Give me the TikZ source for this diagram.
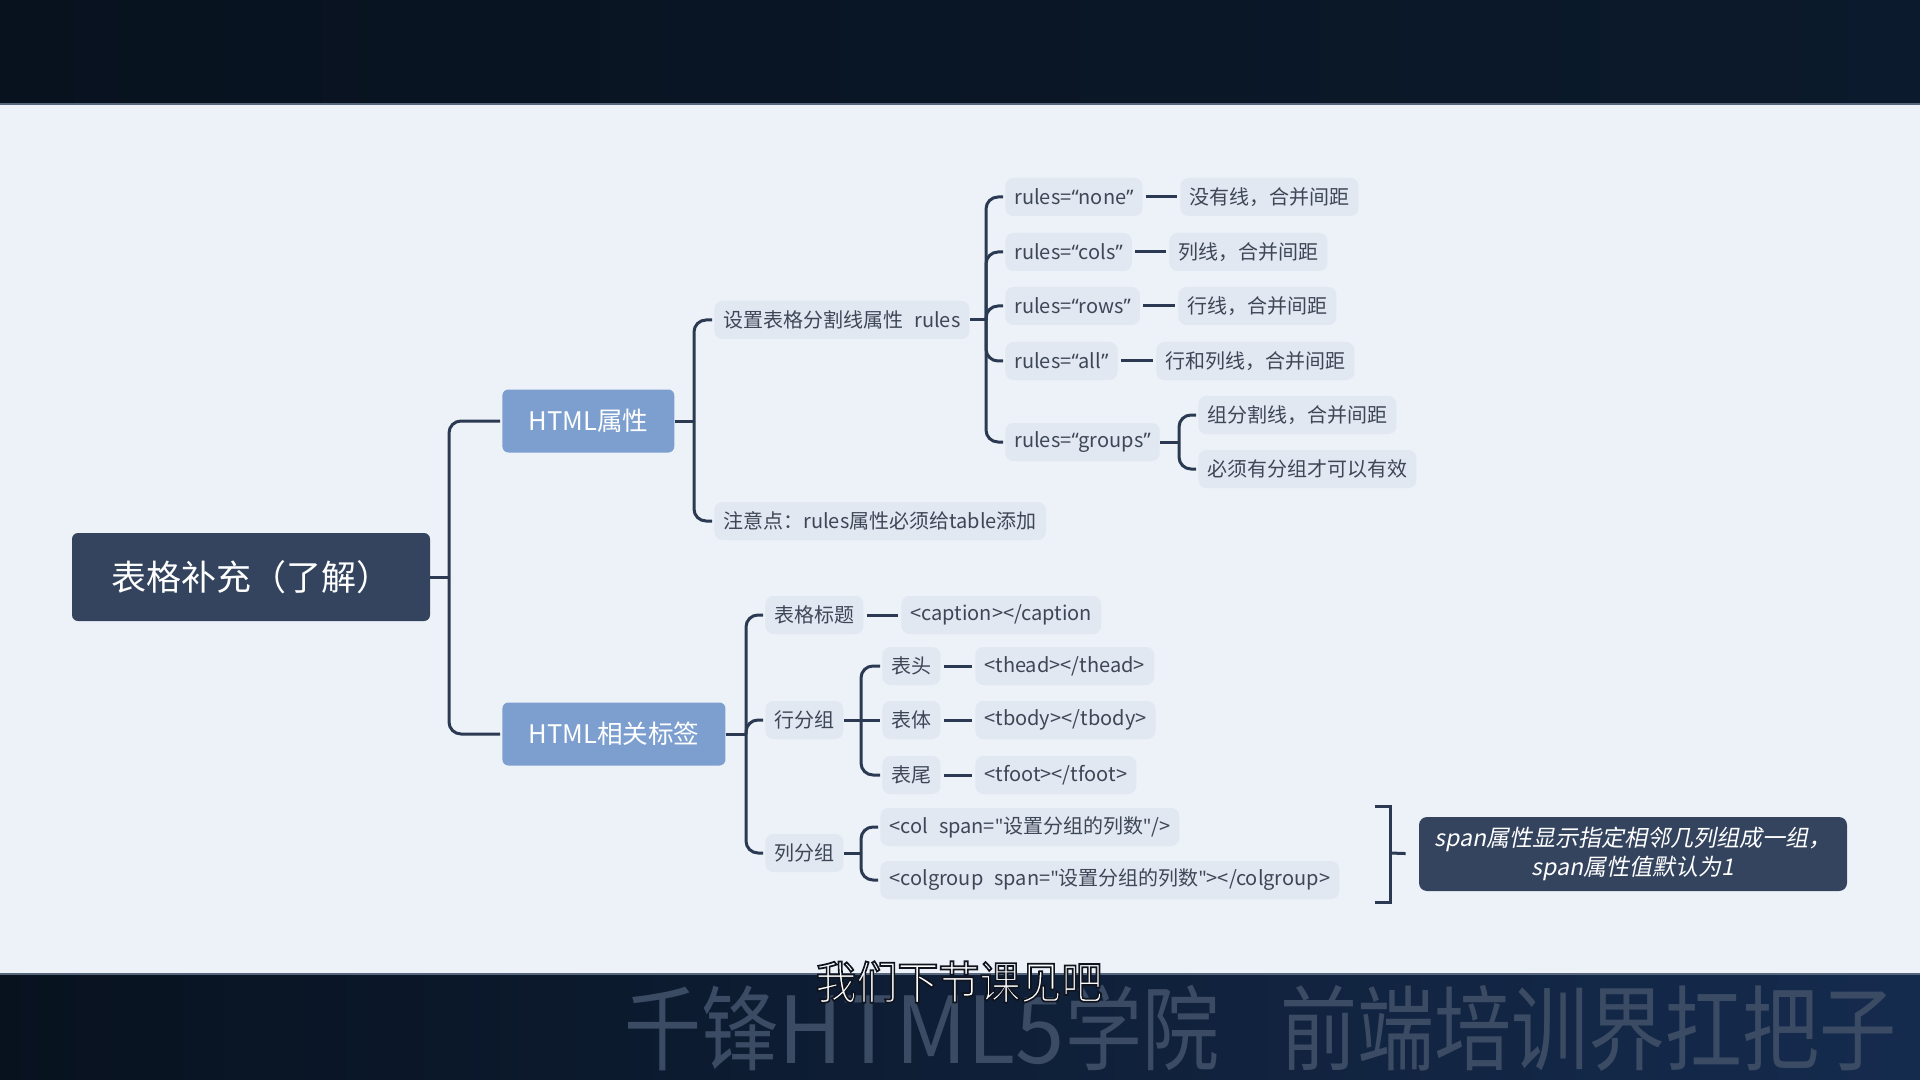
\documentclass[tikz,border=0pt]{standalone}
\usepackage{fontspec}
\usepackage{graphicx}
\setmainfont{Noto Sans CJK SC}
\newfontfamily\qfont{Noto Sans}
\newfontfamily\slfont[FakeSlant=0.2]{Noto Sans CJK SC}
\newcommand\oq{{\qfont “}}
\newcommand\cq{{\qfont ”}}
\newcommand\sq{{\qfont "}}
\newcommand\gap{\hspace{0.55em}}
\newcommand\outlined[1]{\special{pdf:literal direct 2 Tr 0.8 w 1 g 0.06 0.08 0.12 RG}#1\special{pdf:literal direct 0 Tr}}
\definecolor{pagebg}{HTML}{EDF2F9}
\definecolor{leafbg}{HTML}{E1E8F1}
\definecolor{leaftext}{HTML}{3E4757}
\definecolor{rootbg}{HTML}{34445E}
\definecolor{midbg}{HTML}{7C9FCF}
\definecolor{linkc}{HTML}{2B3A52}
\definecolor{bandl}{HTML}{08121F}
\definecolor{bandm}{HTML}{132746}
\definecolor{bandr}{HTML}{0B1A2C}
\definecolor{bandb}{HTML}{152B4E}
\definecolor{edgec}{HTML}{56667C}
\definecolor{markc}{HTML}{3B4B64}

\begin{document}
\begin{tikzpicture}[x=0.5pt, y=-0.5pt,
    leaf/.style={fill=leafbg, text=leaftext, rounded corners=4pt, inner xsep=4.5pt, inner ysep=0pt,
                 minimum height=19pt, anchor=west, font=\fontsize{10}{12}\selectfont},
    topic/.style={fill=midbg, text=white, rounded corners=3pt, inner xsep=13pt, minimum height=31.5pt,
                  anchor=west, font=\fontsize{12.8}{15}\selectfont},
    link/.style={draw=linkc, line width=1.5pt, rounded corners=6pt, shorten >=1pt},
    pair/.style={draw=linkc, line width=1.5pt, shorten <=1.5pt, shorten >=1.5pt},
    bar/.style={draw=linkc, line width=1.5pt}]
    \useasboundingbox (0,0) rectangle (1920,1080);
    \fill[pagebg] (0,0) rectangle (1920,1080);
    \shade[left color=bandl, middle color=bandm, right color=bandr] (0,0) rectangle (1920,104);
    \shade[left color=bandl, right color=bandb] (0,974) rectangle (1920,1080);
    \draw[edgec, line width=0.8pt] (0,104) -- (1920,104);
    \draw[edgec, line width=0.8pt] (0,974) -- (1920,974);

    \node[fill=rootbg, text=white, rounded corners=3pt, minimum width=179pt, minimum height=44pt,
          font=\fontsize{17.5}{20}\selectfont] (root) at (251,577) {表格补充（了解）};
    \node[topic] (attr) at (502,421) {HTML属性};
    \node[topic] (tags) at (502,734) {HTML相关标签};

    \node[leaf] (rset) at (714,320) {设置表格分割线属性\gap rules};
    \node[leaf] (rnote) at (714,521) {注意点：rules属性必须给table添加};
    \node[leaf] (none) at (1005,197) {rules=\oq none\cq};
    \node[leaf] (cols) at (1005,252) {rules=\oq cols\cq};
    \node[leaf] (rows) at (1005,306) {rules=\oq rows\cq};
    \node[leaf] (all) at (1005,361) {rules=\oq all\cq};
    \node[leaf] (groups) at (1005,442) {rules=\oq groups\cq};
    \node[leaf] (vnone) at (1180,197) {没有线，合并间距};
    \node[leaf] (vcols) at (1169,252) {列线，合并间距};
    \node[leaf] (vrows) at (1178,306) {行线，合并间距};
    \node[leaf] (vall) at (1156,361) {行和列线，合并间距};
    \node[leaf] (g1) at (1198,415) {组分割线，合并间距};
    \node[leaf] (g2) at (1198,469) {必须有分组才可以有效};

    \node[leaf] (cap) at (765,615) {表格标题};
    \node[leaf] (vcap) at (901,615) {<caption></caption};
    \node[leaf] (rowg) at (765,720) {行分组};
    \node[leaf] (head) at (882,666) {表头};
    \node[leaf] (body) at (882,720) {表体};
    \node[leaf] (foot) at (882,775) {表尾};
    \node[leaf] (vhead) at (975,666) {<thead></thead>};
    \node[leaf] (vbody) at (975,720) {<tbody></tbody>};
    \node[leaf] (vfoot) at (975,775) {<tfoot></tfoot>};
    \node[leaf] (colg) at (765,853) {列分组};
    \node[leaf] (col1) at (880,827) {<col\gap span=\sq 设置分组的列数\sq/>};
    \node[leaf] (col2) at (880,880) {<colgroup\gap span=\sq 设置分组的列数\sq></colgroup>};

    \node[fill=rootbg, text=white, rounded corners=4pt, minimum width=214pt, minimum height=37pt,
          align=center, font=\slfont\fontsize{11.5}{14.5}\selectfont] (note) at (1633,854)
          {span属性显示指定相邻几列组成一组，\\span属性值默认为1};

    \coordinate (j0) at (449,577);
    \coordinate (j1) at (694,421);
    \coordinate (j2) at (986,320);
    \coordinate (j3) at (1179,442);
    \coordinate (j4) at (746,734);
    \coordinate (j5) at (861,720);
    \coordinate (j6) at (861,853);
    \coordinate (bt) at (1375,806);
    \coordinate (bb) at (1375,902);
    \coordinate (bm) at (1390,853);

    \draw[bar] (root.east) -- (j0);
    \draw[link] (j0) |- (attr.west);
    \draw[link] (j0) |- (tags.west);
    \draw[bar] (attr.east) -- (j1);
    \draw[link] (j1) |- (rset.west);
    \draw[link] (j1) |- (rnote.west);
    \draw[bar] (rset.east) -- (j2);
    \foreach \k in {none,cols,rows,all,groups}
        \draw[link] (j2) |- (\k.west);
    \draw[pair] (none) -- (vnone);
    \draw[pair] (cols) -- (vcols);
    \draw[pair] (rows) -- (vrows);
    \draw[pair] (all) -- (vall);
    \draw[bar] (groups.east) -- (j3);
    \draw[link] (j3) |- (g1.west);
    \draw[link] (j3) |- (g2.west);

    \draw[bar] (tags.east) -- (j4);
    \foreach \k in {cap,rowg,colg}
        \draw[link] (j4) |- (\k.west);
    \draw[pair] (cap) -- (vcap);
    \draw[bar] (rowg.east) -- (j5);
    \draw[link] (j5) |- (head.west);
    \draw[link] (j5) -- (body.west);
    \draw[link] (j5) |- (foot.west);
    \draw[pair] (head) -- (vhead);
    \draw[pair] (body) -- (vbody);
    \draw[pair] (foot) -- (vfoot);
    \draw[bar] (colg.east) -- (j6);
    \draw[link] (j6) |- (col1.west);
    \draw[link] (j6) |- (col2.west);

    \draw[bar] (bt) -| (bm) |- (bb);
    \draw[bar, shorten >=6.5pt] (bm) -- (note.west);

    \node[text=markc, anchor=west, inner sep=0pt, font=\fontsize{38.5}{40}\selectfont] (mark) at (624,1028)
          {\scalebox{1}[1.2]{千锋\scalebox{1.15}[1]{HTML5}学院\hspace{0.8em}前端培训界扛把子}};
    \node[text=white, font=\fontsize{20.5}{24}\selectfont] (sub) at (959,982)
          {\scalebox{1}[1.1]{\outlined{我们下节课见吧}}};
\end{tikzpicture}
\end{document}
